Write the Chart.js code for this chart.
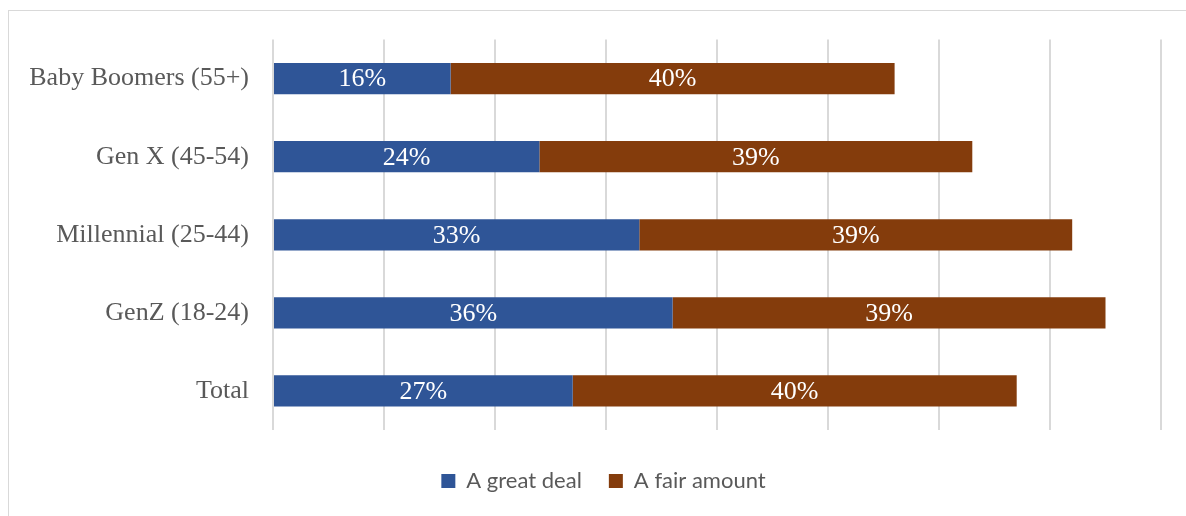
<!DOCTYPE html>
<html>
<head>
<meta charset="utf-8">
<script src="https://cdn.jsdelivr.net/npm/chart.js@4/dist/chart.umd.min.js"></script>
<style>
  html, body { margin: 0; padding: 0; background: #fff; overflow: hidden; }
  #frame { position: absolute; left: 8px; top: 10px; width: 1200px; height: 520px; border: 1px solid #d9d9d9; }
  #wrap { position: absolute; left: 0; top: 0; width: 1186px; height: 516px; }
</style>
</head>
<body>
<div id="frame"></div>
<div id="wrap"><canvas id="chart" width="1186" height="516"></canvas></div>
<script>
var categories = ['Baby Boomers (55+)', 'Gen X (45-54)', 'Millennial (25-44)', 'GenZ (18-24)', 'Total'];
var greatDeal = [16, 24, 33, 36, 27];
var fairAmount = [40, 39, 39, 39, 40];
var seriesNames = ['A great deal', 'A fair amount'];
var seriesColors = ['#2F5597', '#843C0C'];

var serif = '"Liberation Serif", "Times New Roman", serif';

// writes the percentage in the middle of each bar segment
var barLabels = {
  id: 'barLabels',
  afterDatasetsDraw: function (chart) {
    var ctx = chart.ctx;
    ctx.save();
    ctx.fillStyle = '#ffffff';
    ctx.font = '26px ' + serif;
    ctx.textAlign = 'center';
    ctx.textBaseline = 'middle';
    chart.data.datasets.forEach(function (ds, i) {
      var meta = chart.getDatasetMeta(i);
      meta.data.forEach(function (bar, j) {
        var cx = (bar.x + bar.base) / 2;
        ctx.fillText(ds.data[j] + '%', cx, bar.y + 1);
      });
    });
    ctx.restore();
  }
};

// centre the legend under the plot rather than the whole canvas
var legendShift = {
  id: 'legendShift',
  afterLayout: function (chart) {
    if (chart.legend) {
      chart.legend.left += 19;
      chart.legend.right += 19;
    }
  }
};

var chart = new Chart(document.getElementById('chart').getContext('2d'), {
  type: 'bar',
  data: {
    labels: categories,
    datasets: [
      { label: seriesNames[0], data: greatDeal, backgroundColor: seriesColors[0], barPercentage: 0.4, categoryPercentage: 1 },
      { label: seriesNames[1], data: fairAmount, backgroundColor: seriesColors[1], barPercentage: 0.4, categoryPercentage: 1 }
    ]
  },
  options: {
    indexAxis: 'y',
    responsive: false,
    animation: false,
    layout: { padding: { left: 8, right: 25, top: 39, bottom: 14 } },
    scales: {
      x: {
        stacked: true,
        min: 0,
        max: 80,
        ticks: { display: false, stepSize: 10 },
        grid: { color: '#d9d9d9', lineWidth: 2, drawTicks: false },
        border: { display: false },
        afterFit: function (scale) { scale.height = 13; }
      },
      y: {
        stacked: true,
        ticks: {
          color: '#595959',
          padding: 24,
          font: { family: serif, size: 26 }
        },
        grid: { display: false, drawTicks: false },
        border: { display: false },
        afterFit: function (scale) { scale.width = 265; }
      }
    },
    plugins: {
      tooltip: { enabled: false },
      legend: {
        position: 'bottom',
        labels: {
          color: '#595959',
          boxWidth: 14,
          boxHeight: 14,
          padding: 27,
          font: { family: 'Lato, "Open Sans", sans-serif', size: 22 }
        }
      }
    }
  },
  plugins: [barLabels, legendShift]
});
</script>
</body>
</html>
